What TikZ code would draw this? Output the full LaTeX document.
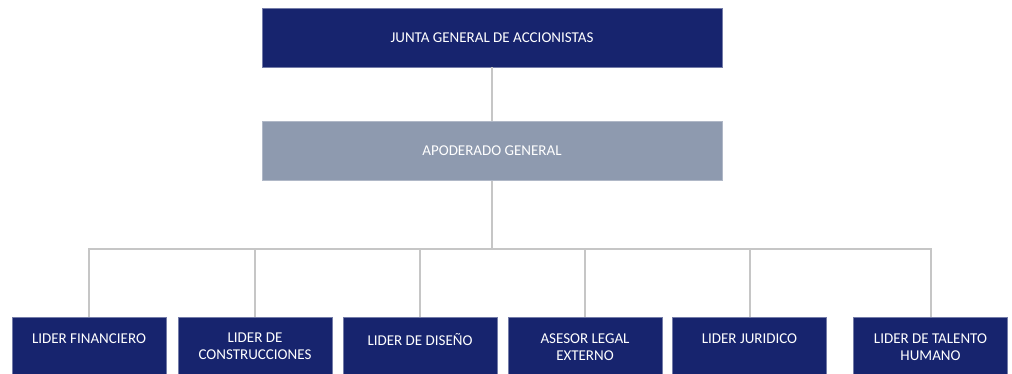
\documentclass[tikz,border=0pt]{standalone}
\usepackage{fontspec}
\setmainfont{Carlito}
\definecolor{navy}{RGB}{23,36,110}
\definecolor{slate}{RGB}{142,154,175}
\definecolor{conn}{RGB}{198,198,198}
\tikzset{
  x=1pt,y=-1pt,
  topbox/.style={fill=navy,draw=navy!60!white,line width=0.6pt,inner sep=0pt,minimum width=460pt,minimum height=59pt,text=white,font=\fontsize{15}{17}\selectfont},
  midbox/.style={topbox,fill=slate,draw=slate!70!white},
  leafbox/.style={fill=navy,draw=navy!60!white,line width=0.6pt,inner sep=0pt,anchor=north,text=white,font=\fontsize{15}{17}\selectfont},
  link/.style={draw=conn,line width=2pt}
}
\newcommand{\leaftext}[1]{\parbox[c][62pt][t]{154pt}{\centering\vspace{16pt}#1}}
\begin{document}
\begin{tikzpicture}
\useasboundingbox (0,0) rectangle (1012,374);
\clip (0,0) rectangle (1012,374);
\node[topbox] (jga) at (492,37.5) {JUNTA GENERAL DE ACCIONISTAS};
\node[midbox] (apo) at (492,151) {APODERADO GENERAL};
\coordinate (hub) at (492,249);
\node[leafbox] (l1) at (89,317) {\leaftext{LIDER FINANCIERO}};
\node[leafbox] (l2) at (255,317) {\leaftext{LIDER DE\\CONSTRUCCIONES}};
\node[leafbox] (l3) at (420,317) {\leaftext{LIDER DE DISEÑO}};
\node[leafbox] (l4) at (585,317) {\leaftext{ASESOR LEGAL\\EXTERNO}};
\node[leafbox] (l5) at (749.5,317) {\leaftext{LIDER JURIDICO}};
\node[leafbox] (l6) at (930.5,317) {\leaftext{LIDER DE TALENTO\\HUMANO}};
\draw[link] (jga.south) -- (apo.north);
\draw[link] (apo.south) -- (hub);
\draw[link] (l1.north) |- (hub) -| (l6.north);
\foreach \n in {l2,l3,l4,l5} \draw[link] (\n.north) -- (\n.north |- hub);
\end{tikzpicture}
\end{document}
